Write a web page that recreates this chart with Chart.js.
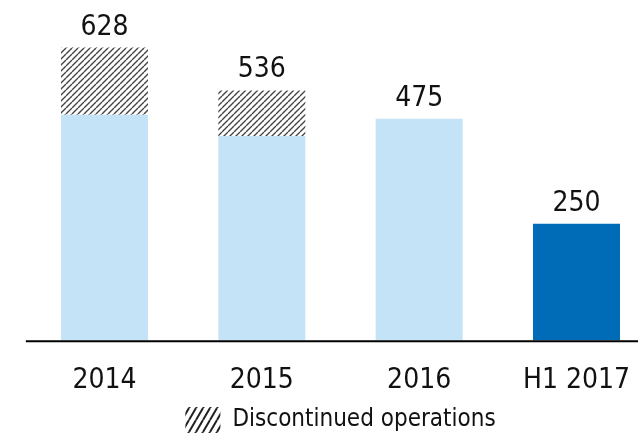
<!DOCTYPE html>
<html>
<head>
<meta charset="utf-8">
<script src="https://cdn.jsdelivr.net/npm/chart.js@4.4.0/dist/chart.umd.min.js"></script>
<style>
    html, body { margin: 0; padding: 0; background: #fff; overflow: hidden; }
    #wrap { width: 638px; height: 435px; position: relative; }
</style>
</head>
<body>
<div id="wrap"><canvas id="chart"></canvas></div>
<script>
// Données
const categories = ['2014', '2015', '2016', 'H1 2017'];
const continuing = [484, 438, 475, 250];
const discontinued = [144, 98, 0, 0];
const continuingColors = ['#c4e3f7', '#c4e3f7', '#c4e3f7', '#006bb6'];

const FONT = "'DejaVu Sans Condensed', 'DejaVu Sans', sans-serif";

// Motif hachuré (w x h, trait en diagonale)
function makeHatch(w, h, color, width) {
    const c = document.createElement('canvas');
    c.width = w;
    c.height = h;
    const g = c.getContext('2d');
    g.fillStyle = '#ffffff';
    g.fillRect(0, 0, w, h);
    g.strokeStyle = color;
    g.lineWidth = width;
    g.beginPath();
    for (let k = -1; k <= 1; k++) {
        g.moveTo(k * w, h);
        g.lineTo(k * w + w, 0);
    }
    g.stroke();
    return g.createPattern(c, 'repeat');
}
const hatch = makeHatch(6, 6, '#444', 1.4);
const legendHatch = makeHatch(7, 12, '#222', 2);

// Ligne de base + totaux au-dessus des barres
const extrasPlugin = {
    id: 'extras',
    afterDatasetsDraw(chart) {
        const ctx = chart.ctx;
        const x = chart.scales.x;
        const y = chart.scales.y;
        const step = x.getPixelForValue(1) - x.getPixelForValue(0);
        const y0 = y.getPixelForValue(0);

        ctx.save();
        ctx.strokeStyle = '#000';
        ctx.lineWidth = 2;
        ctx.beginPath();
        ctx.moveTo(x.getPixelForValue(0) - step / 2, y0 + 1);
        ctx.lineTo(chart.width, y0 + 1);
        ctx.stroke();

        ctx.fillStyle = '#111';
        ctx.font = '28px ' + FONT;
        ctx.textAlign = 'center';
        ctx.textBaseline = 'alphabetic';
        categories.forEach((c, i) => {
            const total = continuing[i] + discontinued[i];
            ctx.fillText(String(total), x.getPixelForValue(i), y.getPixelForValue(total) - 13);
        });
        ctx.restore();
    }
};

new Chart(document.getElementById('chart'), {
    type: 'bar',
    data: {
        labels: categories,
        datasets: [
            {
                label: 'Continuing operations',
                data: continuing,
                backgroundColor: continuingColors,
                borderWidth: 0
            },
            {
                label: 'Discontinued operations',
                data: discontinued,
                backgroundColor: hatch,
                borderWidth: 0
            }
        ]
    },
    options: {
        responsive: true,
        maintainAspectRatio: false,
        animation: false,
        categoryPercentage: 1,
        barPercentage: 0.553,
        clip: false,
        layout: {
            padding: { top: 14, left: 104.5, right: 61.5, bottom: -8 }
        },
        plugins: {
            tooltip: { enabled: false },
            legend: {
                position: 'bottom',
                labels: {
                    boxWidth: 35,
                    boxHeight: 26,
                    padding: 9,
                    color: '#111',
                    font: { family: FONT, size: 24 },
                    generateLabels: chart => [{
                        text: 'Discontinued operations',
                        fillStyle: legendHatch,
                        lineWidth: 0,
                        strokeStyle: 'transparent',
                        fontColor: '#111',
                        datasetIndex: 1,
                        hidden: false
                    }]
                }
            }
        },
        scales: {
            x: {
                stacked: true,
                offset: false,
                grid: {
                    display: false,
                    drawTicks: true,
                    tickLength: 24.2,
                    color: 'transparent'
                },
                border: { display: false },
                ticks: {
                    padding: 0,
                    color: '#111',
                    font: { family: FONT, size: 28 }
                }
            },
            y: {
                stacked: true,
                display: false,
                min: 0,
                max: 700
            }
        }
    },
    plugins: [extrasPlugin]
});
</script>
</body>
</html>
